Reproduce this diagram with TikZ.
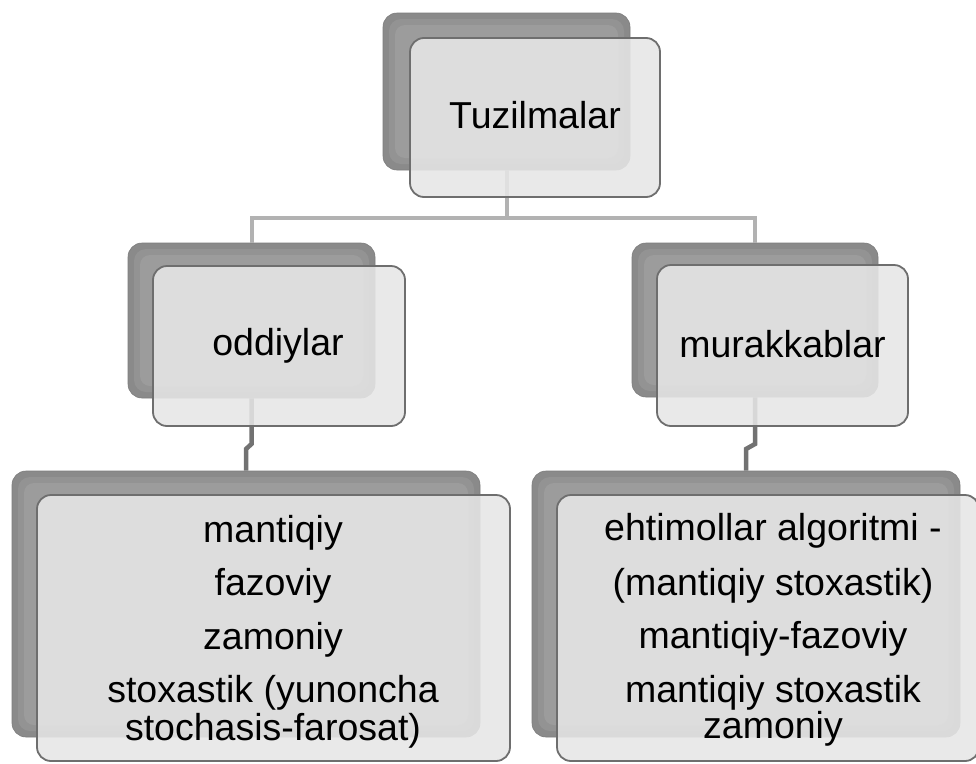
\documentclass[tikz,border=0pt]{standalone}
\usepackage{fontspec}
\setmainfont{Liberation Sans}
\usetikzlibrary{calc}
\definecolor{shadowc}{HTML}{8A8A8A}
\definecolor{shadowmid}{HTML}{939393}
\definecolor{shadowin}{HTML}{9C9C9C}
\definecolor{frontc}{HTML}{E6E6E6}
\definecolor{borderc}{HTML}{6E6E6E}
\definecolor{linelight}{HTML}{B2B2B2}
\definecolor{linedark}{HTML}{727272}
\tikzset{
  backbox/.style={rectangle, rounded corners=14pt, fill=shadowc, draw=shadowc!90!black, line width=0.6pt, inner sep=0pt},
  backmid/.style={rectangle, rounded corners=12pt, fill=shadowmid, inner sep=0pt},
  backin/.style={rectangle, rounded corners=10pt, fill=shadowin, inner sep=0pt},
  frontbox/.style={rectangle, rounded corners=14pt, fill=frontc, fill opacity=0.88, draw=borderc, draw opacity=1, line width=1.8pt, inner sep=0pt},
  lbl/.style={anchor=base, font=\fontsize{37.5}{38}\selectfont, text=black, inner sep=0pt},
  uplink/.style={draw=linelight, line width=4pt},
  downlink/.style={draw=linedark, line width=4.5pt}
}
\begin{document}
\begin{tikzpicture}[x=1pt,y=-1pt]
\useasboundingbox (0,0) rectangle (976,763);
\fill[white] (0,0) rectangle (976,763);
% back (shadow) boxes
\node[backbox, minimum width=247pt, minimum height=157pt] (s0) at (506.5,91.5) {};
\node[backmid, minimum width=235pt, minimum height=145pt] (s0m) at (s0.center) {};
\node[backin, minimum width=223pt, minimum height=133pt] (s0i) at (s0.center) {};
\node[backbox, minimum width=247pt, minimum height=155pt] (s1) at (251.5,320.5) {};
\node[backmid, minimum width=235pt, minimum height=143pt] (s1m) at (s1.center) {};
\node[backin, minimum width=223pt, minimum height=131pt] (s1i) at (s1.center) {};
\node[backbox, minimum width=246pt, minimum height=154pt] (s2) at (755,320) {};
\node[backmid, minimum width=234pt, minimum height=142pt] (s2m) at (s2.center) {};
\node[backin, minimum width=222pt, minimum height=130pt] (s2i) at (s2.center) {};
\node[backbox, minimum width=468pt, minimum height=266pt] (s3) at (246,604) {};
\node[backmid, minimum width=456pt, minimum height=254pt] (s3m) at (s3.center) {};
\node[backin, minimum width=444pt, minimum height=242pt] (s3i) at (s3.center) {};
\node[backbox, minimum width=428pt, minimum height=266pt] (s4) at (746,604) {};
\node[backmid, minimum width=416pt, minimum height=254pt] (s4m) at (s4.center) {};
\node[backin, minimum width=404pt, minimum height=242pt] (s4i) at (s4.center) {};
% connectors
\coordinate (bus) at (0,218);
\draw[uplink] (s0.south) -- (s0.south |- bus) -| (s1.north);
\draw[uplink] (s0.south |- bus) -| (s2.north);
\draw[downlink] (s1.south) -- ($(s1.south |- 0,444)$) -- ($(s3.north |- 0,449)$) -- (s3.north);
\draw[downlink] (s2.south) -- ($(s2.south |- 0,444)$) -- ($(s4.north |- 0,449)$) -- (s4.north);
% front boxes
\node[frontbox, minimum width=250pt, minimum height=159pt] (f0) at (535,117.5) {};
\node[frontbox, minimum width=252pt, minimum height=160pt] (f1) at (279,346) {};
\node[frontbox, minimum width=251pt, minimum height=161pt] (f2) at (782.5,345.5) {};
\node[frontbox, minimum width=473pt, minimum height=266pt] (f3) at (273.5,628) {};
\node[frontbox, minimum width=422pt, minimum height=266pt] (f4) at (768,628) {};
% labels
\node[lbl] (t0) at (535,128) {Tuzilmalar};
\node[lbl] (t1) at (278,355) {oddiylar};
\node[lbl] (t2) at (782.5,357) {murakkablar};
\node[lbl] (a1) at (273,542) {mantiqiy};
\node[lbl] (a2) at (273,595) {fazoviy};
\node[lbl] (a3) at (273,649) {zamoniy};
\node[lbl] (a4) at (273,702) {stoxastik (yunoncha};
\node[lbl] (a5) at (273,740) {stochasis-farosat)};
\node[lbl] (b1) at (773,540) {ehtimollar algoritmi -};
\node[lbl] (b2) at (773,595) {(mantiqiy stoxastik)};
\node[lbl] (b3) at (773,648) {mantiqiy-fazoviy};
\node[lbl] (b4) at (773,702) {mantiqiy stoxastik};
\node[lbl] (b5) at (773,738) {zamoniy};
\end{tikzpicture}
\end{document}
